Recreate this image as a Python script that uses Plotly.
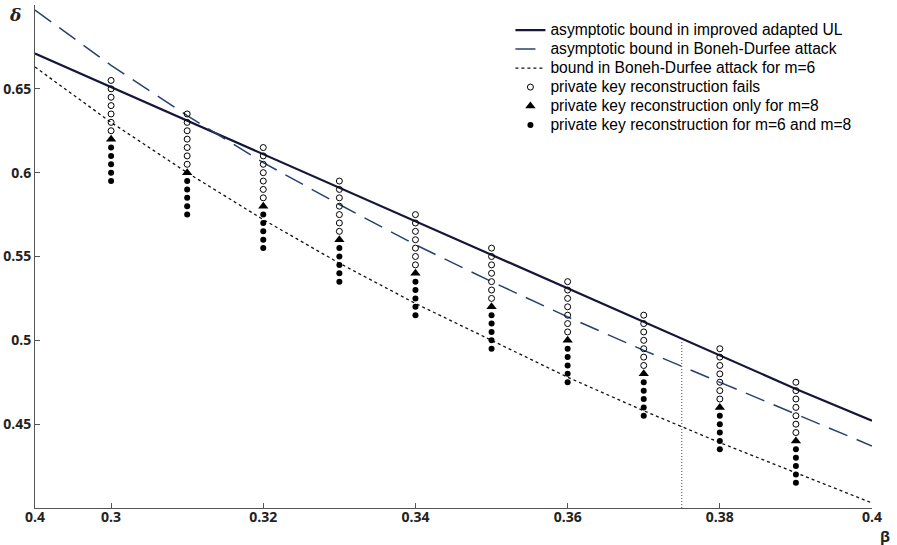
import plotly.graph_objects as go

# ---- bound curves ----
beta_curve = [0.29, 0.30, 0.31, 0.32, 0.33, 0.34, 0.35, 0.36, 0.37, 0.38, 0.39, 0.40]
ul_bound = [0.671, 0.651, 0.631, 0.611, 0.591, 0.571, 0.551, 0.531, 0.511, 0.491, 0.471, 0.452]
bd_bound = [0.697, 0.664, 0.634, 0.606, 0.581, 0.557, 0.535, 0.514, 0.494, 0.475, 0.456, 0.437]
bd_m6_bound = [0.663, 0.630, 0.600, 0.572, 0.546, 0.522, 0.500, 0.478, 0.458, 0.439, 0.421, 0.403]

# ---- experiment columns ----
point_beta = [0.30, 0.31, 0.32, 0.33, 0.34, 0.35, 0.36, 0.37, 0.38, 0.39]
fails_delta = [
    [0.655, 0.650, 0.645, 0.640, 0.635, 0.630, 0.625],
    [0.635, 0.630, 0.625, 0.620, 0.615, 0.610, 0.605],
    [0.615, 0.610, 0.605, 0.600, 0.595, 0.590, 0.585],
    [0.595, 0.590, 0.585, 0.580, 0.575, 0.570, 0.565],
    [0.575, 0.570, 0.565, 0.560, 0.555, 0.550, 0.545],
    [0.555, 0.550, 0.545, 0.540, 0.535, 0.530, 0.525],
    [0.535, 0.530, 0.525, 0.520, 0.515, 0.510, 0.505],
    [0.515, 0.510, 0.505, 0.500, 0.495, 0.490, 0.485],
    [0.495, 0.490, 0.485, 0.480, 0.475, 0.470, 0.465],
    [0.475, 0.470, 0.465, 0.460, 0.455, 0.450, 0.445],
]
only_m8_delta = [0.620, 0.600, 0.580, 0.560, 0.540, 0.520, 0.500, 0.480, 0.460, 0.440]
both_delta = [
    [0.615, 0.610, 0.605, 0.600, 0.595],
    [0.595, 0.590, 0.585, 0.580, 0.575],
    [0.575, 0.570, 0.565, 0.560, 0.555],
    [0.555, 0.550, 0.545, 0.540, 0.535],
    [0.535, 0.530, 0.525, 0.520, 0.515],
    [0.515, 0.510, 0.505, 0.500, 0.495],
    [0.495, 0.490, 0.485, 0.480, 0.475],
    [0.475, 0.470, 0.465, 0.460, 0.455],
    [0.455, 0.450, 0.445, 0.440, 0.435],
    [0.435, 0.430, 0.425, 0.420, 0.415],
]

# vertical marker line
vline_beta = [0.375, 0.375]
vline_delta = [0.40, 0.50]

x_tickvals = [0.29, 0.30, 0.32, 0.34, 0.36, 0.38, 0.40]
x_ticktext = ["0.4", "0.3", "0.32", "0.34", "0.36", "0.38", "0.4"]
y_tickvals = [0.45, 0.50, 0.55, 0.60, 0.65]
y_ticktext = ["0.45", "0.5", "0.55", "0.6", "0.65"]

legend_names = [
    "asymptotic bound in improved adapted UL",
    "asymptotic bound in Boneh-Durfee attack",
    "bound in Boneh-Durfee attack for m=6",
    "private key reconstruction fails",
    "private key reconstruction only for m=8",
    "private key reconstruction for m=6 and m=8",
]


def lname(s):
    return '<span style="font-size:15.6px">' + s + "</span>"


fails_x, fails_y = [], []
for b, col in zip(point_beta, fails_delta):
    fails_x += [b] * len(col)
    fails_y += col
both_x, both_y = [], []
for b, col in zip(point_beta, both_delta):
    both_x += [b] * len(col)
    both_y += col

fig = go.Figure()
fig.add_trace(go.Scatter(x=beta_curve, y=ul_bound, mode="lines",
                         name=lname(legend_names[0]),
                         line=dict(color="#15163a", width=2.2)))
fig.add_trace(go.Scatter(x=beta_curve, y=bd_bound, mode="lines",
                         name=lname(legend_names[1]),
                         line=dict(color="#27406e", width=1.5, dash="20px,10px")))
fig.add_trace(go.Scatter(x=beta_curve, y=bd_m6_bound, mode="lines",
                         name=lname(legend_names[2]),
                         line=dict(color="#111111", width=1.3, dash="3px,3px")))
fig.add_trace(go.Scatter(x=fails_x, y=fails_y, mode="markers",
                         name=lname(legend_names[3]),
                         marker=dict(symbol="circle-open", size=6, color="black",
                                     line=dict(width=1, color="black"))))
fig.add_trace(go.Scatter(x=point_beta, y=only_m8_delta, mode="markers",
                         name=lname(legend_names[4]),
                         marker=dict(symbol="triangle-up", size=9, color="black")))
fig.add_trace(go.Scatter(x=both_x, y=both_y, mode="markers",
                         name=lname(legend_names[5]),
                         marker=dict(symbol="circle", size=6, color="black")))
fig.add_trace(go.Scatter(x=vline_beta, y=vline_delta, mode="lines", showlegend=False,
                         line=dict(color="#222222", width=0.8, dash="1px,2px")))

axis_font = dict(family="Open Sans", size=14, color="#222222", weight="bold")
fig.update_layout(
    width=897, height=545,
    margin=dict(l=35, r=25, t=5, b=37),
    paper_bgcolor="white", plot_bgcolor="white",
    font=dict(family="Liberation Sans, Arial", size=12, color="black"),
    showlegend=True,
    legend=dict(x=0.568, y=0.979, xanchor="left", yanchor="top",
                bgcolor="rgba(0,0,0,0)", font=dict(size=12),
                tracegroupgap=0, itemwidth=30),
    xaxis=dict(range=[0.29, 0.40], tickvals=x_tickvals, ticktext=x_ticktext,
               showgrid=False, zeroline=False, showline=True, linecolor="#555555",
               linewidth=1, ticks="inside", ticklen=5, tickcolor="#555555",
               automargin=False, tickfont=axis_font, ticklabelstandoff=-4),
    yaxis=dict(range=[0.40, 0.70], tickvals=y_tickvals, ticktext=y_ticktext,
               showgrid=False, zeroline=False, showline=True, linecolor="#555555",
               linewidth=1, ticks="inside", ticklen=5, tickcolor="#555555",
               automargin=False, tickfont=axis_font),
)
fig.add_annotation(x=-0.0239, y=0.980, xref="paper", yref="paper", text="<b><i>δ</i></b>",
                   xanchor="center", yanchor="middle",
                   showarrow=False, font=dict(family="DejaVu Serif", size=17, color="#222222"))
fig.add_annotation(x=1.0155, y=-0.0557, xref="paper", yref="paper", text="<b>β</b>",
                   xanchor="center", yanchor="middle",
                   showarrow=False, font=dict(family="Open Sans", size=15, color="#222222"))

fig.write_html("out.html", config={"displayModeBar": False},
               post_script="document.body.style.margin='0';")
